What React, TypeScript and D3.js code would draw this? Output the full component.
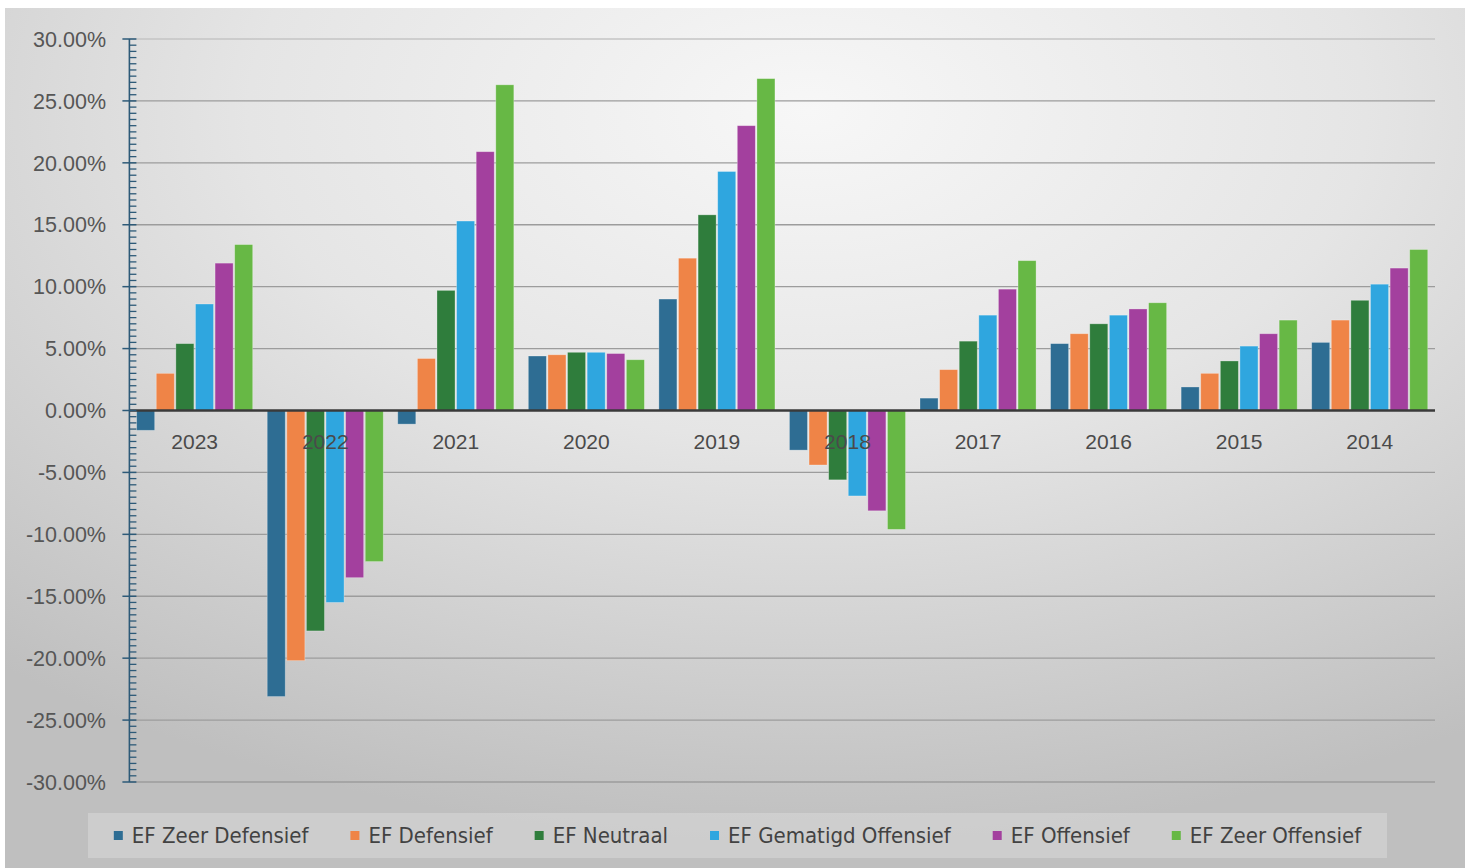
import { useEffect, useRef } from 'react';
import * as d3 from 'd3';

const years = ['2023', '2022', '2021', '2020', '2019', '2018', '2017', '2016', '2015', '2014'];

const seriesNames = [
  'EF Zeer Defensief',
  'EF Defensief',
  'EF Neutraal',
  'EF Gematigd Offensief',
  'EF Offensief',
  'EF Zeer Offensief',
];

const seriesColors = ['#2e6d93', '#ef8447', '#2f7d3c', '#2fa6df', '#a3409e', '#67b845'];

// returns in %, one value per year
const zeerDefensief = [-1.6, -23.1, -1.1, 4.4, 9.0, -3.2, 1.0, 5.4, 1.9, 5.5];
const defensief = [3.0, -20.2, 4.2, 4.5, 12.3, -4.4, 3.3, 6.2, 3.0, 7.3];
const neutraal = [5.4, -17.8, 9.7, 4.7, 15.8, -5.6, 5.6, 7.0, 4.0, 8.9];
const gematigdOffensief = [8.6, -15.5, 15.3, 4.7, 19.3, -6.9, 7.7, 7.7, 5.2, 10.2];
const offensief = [11.9, -13.5, 20.9, 4.6, 23.0, -8.1, 9.8, 8.2, 6.2, 11.5];
const zeerOffensief = [13.4, -12.2, 26.3, 4.1, 26.8, -9.6, 12.1, 8.7, 7.3, 13.0];

const seriesValues = [zeerDefensief, defensief, neutraal, gematigdOffensief, offensief, zeerOffensief];

const yTicks = [30, 25, 20, 15, 10, 5, 0, -5, -10, -15, -20, -25, -30];

const W = 1469;
const H = 868;

export default function App() {
  const svgRef = useRef<SVGSVGElement>(null);

  useEffect(() => {
    document.body.style.margin = '0';
    const svg = d3.select(svgRef.current);
    svg.selectAll('*').remove();

    const left = 129.4, right = 1435, top = 39, bottom = 782;

    const x0 = d3.scaleBand<string>()
      .domain(years)
      .range([left, right])
      .paddingInner(0.111)
      .paddingOuter(0.0555);

    const x1 = d3.scaleBand<number>()
      .domain(d3.range(seriesNames.length))
      .range([0, x0.bandwidth()])
      .paddingInner(0.08);

    const y = d3.scaleLinear().domain([-30, 30]).range([bottom, top]);

    // background
    const defs = svg.append('defs');
    const grad = defs.append('radialGradient')
      .attr('id', 'bg')
      .attr('cx', 0.55).attr('cy', 0.12).attr('r', 0.85);
    grad.append('stop').attr('offset', '0%').attr('stop-color', '#f7f7f7');
    grad.append('stop').attr('offset', '45%').attr('stop-color', '#e5e5e5');
    grad.append('stop').attr('offset', '100%').attr('stop-color', '#bfbfbf');

    svg.append('rect').attr('width', W).attr('height', H).attr('fill', '#ffffff');
    svg.append('rect')
      .attr('x', 5).attr('y', 8)
      .attr('width', 1460).attr('height', H - 8)
      .attr('fill', 'url(#bg)');

    // gridlines
    svg.append('g')
      .selectAll('line')
      .data(yTicks.filter(t => t !== 0))
      .enter().append('line')
      .attr('x1', left).attr('x2', right)
      .attr('y1', d => y(d)).attr('y2', d => y(d))
      .attr('stroke', d => (d === 30 ? '#c4c4c4' : '#9c9c9c'))
      .attr('stroke-width', 1.4);

    // y tick labels
    svg.append('g')
      .selectAll('text')
      .data(yTicks)
      .enter().append('text')
      .attr('x', 106)
      .attr('y', d => y(d))
      .attr('dy', '0.36em')
      .attr('text-anchor', 'end')
      .style('font-family', '"Liberation Sans", Arial, sans-serif')
      .style('font-size', '21.5px')
      .attr('fill', '#565656')
      .text(d => d.toFixed(2) + '%');

    // bars
    const groups = svg.append('g')
      .selectAll('g')
      .data(years)
      .enter().append('g')
      .attr('transform', d => `translate(${x0(d)},0)`);

    groups.selectAll('rect')
      .data((_, i) => seriesValues.map((vals, s) => ({ s, v: vals[i] })))
      .enter().append('rect')
      .attr('x', d => x1(d.s)!)
      .attr('width', x1.bandwidth())
      .attr('y', d => Math.min(y(d.v), y(0)))
      .attr('height', d => Math.abs(y(d.v) - y(0)))
      .attr('fill', d => seriesColors[d.s])
      .attr('stroke', 'rgba(255,255,255,0.35)')
      .attr('stroke-width', 0.8);

    // zero line
    svg.append('line')
      .attr('x1', left).attr('x2', right)
      .attr('y1', y(0)).attr('y2', y(0))
      .attr('stroke', '#3a3a3a')
      .attr('stroke-width', 2.6);

    // category labels
    svg.append('g')
      .selectAll('text')
      .data(years)
      .enter().append('text')
      .attr('x', d => x0(d)! + x0.bandwidth() / 2)
      .attr('y', 449)
      .attr('text-anchor', 'middle')
      .style('font-family', '"Liberation Sans", Arial, sans-serif')
      .style('font-size', '21px')
      .attr('fill', '#4a4a4a')
      .text(d => d);

    // y axis with major and minor ticks
    const axisColor = '#2d5a78';
    const ax = svg.append('g');
    ax.append('line')
      .attr('x1', left).attr('x2', left)
      .attr('y1', top).attr('y2', bottom)
      .attr('stroke', axisColor).attr('stroke-width', 1.6);
    const minor = d3.range(-30, 30.01, 0.5).filter(v => Math.abs(v % 5) > 0.01);
    ax.selectAll('line.minor')
      .data(minor)
      .enter().append('line')
      .attr('class', 'minor')
      .attr('x1', left).attr('x2', left + 7)
      .attr('y1', d => y(d)).attr('y2', d => y(d))
      .attr('stroke', axisColor).attr('stroke-width', 1.3);
    ax.selectAll('line.major')
      .data(yTicks)
      .enter().append('line')
      .attr('class', 'major')
      .attr('x1', left - 7).attr('x2', left + 7)
      .attr('y1', d => y(d)).attr('y2', d => y(d))
      .attr('stroke', axisColor).attr('stroke-width', 1.5);

    // legend
    const legBox = { x: 88, y: 813, w: 1299, h: 45 };
    svg.append('rect')
      .attr('x', legBox.x).attr('y', legBox.y)
      .attr('width', legBox.w).attr('height', legBox.h)
      .attr('fill', 'rgba(255,255,255,0.22)');

    const leg = svg.append('g');
    const items = leg.selectAll('g')
      .data(seriesNames)
      .enter().append('g');
    items.append('rect')
      .attr('width', 9).attr('height', 9)
      .attr('y', -4.5)
      .attr('fill', (_, i) => seriesColors[i]);
    const labels = items.append('text')
      .attr('x', 18)
      .attr('dy', '0.36em')
      .style('font-family', '"Liberation Sans Narrow", "DejaVu Sans Condensed", sans-serif')
      .style('font-size', '22px')
      .attr('fill', '#424242')
      .text(d => d);

    const widths: number[] = [];
    labels.each(function () {
      widths.push((this as SVGTextElement).getComputedTextLength());
    });
    const gap = 42;
    const itemW = widths.map(w => 18 + w);
    const total = d3.sum(itemW) + gap * (itemW.length - 1);
    let cx = legBox.x + (legBox.w - total) / 2;
    const cy = legBox.y + legBox.h / 2;
    items.each(function (_, i) {
      d3.select(this).attr('transform', `translate(${cx},${cy})`);
      cx += itemW[i] + gap;
    });
  }, []);

  return <svg ref={svgRef} width={W} height={H} style={{ display: 'block' }} />;
}
